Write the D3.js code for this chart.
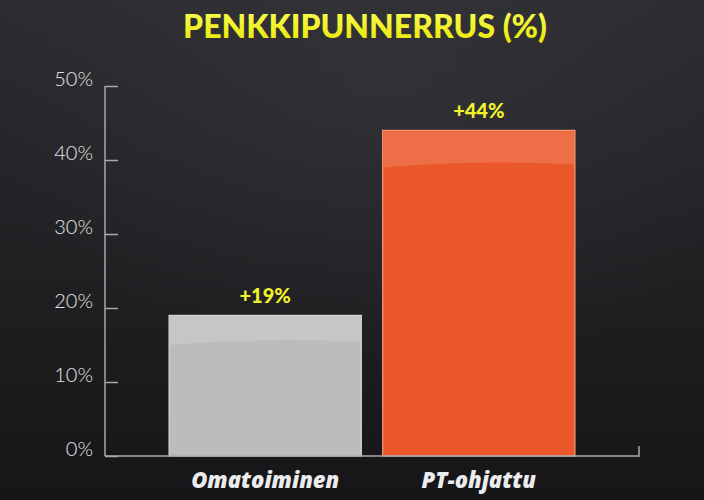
<!DOCTYPE html>
<html>
<head>
<meta charset="utf-8">
<script src="https://cdn.jsdelivr.net/npm/d3@7"></script>
<style>
  html, body { margin: 0; padding: 0; background: #1b1b1d; }
  svg { display: block; }
</style>
</head>
<body>
<div id="chart"></div>
<script>
const categories = ["Omatoiminen", "PT-ohjattu"];
const values = [19, 44];
const valueLabels = ["+19%", "+44%"];
const yTicks = [0, 10, 20, 30, 40, 50];
const title = "PENKKIPUNNERRUS (%)";

const width = 704, height = 500;
const plotLeft = 105, plotRight = 639, plotTop = 86, plotBottom = 456;

const svg = d3.select("#chart").append("svg").attr("width", width).attr("height", height);
const defs = svg.append("defs");

// background: dark with a faint light glow in the upper middle
const bg = defs.append("linearGradient").attr("id", "bg").attr("x1", 0).attr("y1", 0).attr("x2", 0).attr("y2", 1);
bg.append("stop").attr("offset", "0%").attr("stop-color", "#2c2c30");
bg.append("stop").attr("offset", "60%").attr("stop-color", "#1f1f22");
bg.append("stop").attr("offset", "100%").attr("stop-color", "#161618");
const glow = defs.append("radialGradient").attr("id", "glow").attr("cx", "55%").attr("cy", "15%").attr("r", "60%");
glow.append("stop").attr("offset", "0%").attr("stop-color", "#3a3a3f").attr("stop-opacity", 0.5);
glow.append("stop").attr("offset", "100%").attr("stop-color", "#3a3a3f").attr("stop-opacity", 0);

svg.append("rect").attr("width", width).attr("height", height).attr("fill", "url(#bg)");
svg.append("rect").attr("width", width).attr("height", height).attr("fill", "url(#glow)");

const titleGrad = defs.append("linearGradient").attr("id", "titleGrad").attr("x1", 0).attr("y1", 0).attr("x2", 0).attr("y2", 1);
titleGrad.append("stop").attr("offset", "0%").attr("stop-color", "#fbff5a");
titleGrad.append("stop").attr("offset", "100%").attr("stop-color", "#e8e600");

svg.append("text")
  .attr("x", 365).attr("y", 38)
  .attr("text-anchor", "middle")
  .attr("font-family", "Lato")
  .attr("font-weight", 900)
  .attr("font-size", 32)
  .attr("fill", "url(#titleGrad)")
  .text(title);

const y = d3.scaleLinear().domain([0, 50]).range([plotBottom, plotTop]);
const x = d3.scaleBand().domain(categories).range([plotLeft, plotRight]).paddingInner(0.1).paddingOuter(0.3);

// y axis
const yAxis = svg.append("g").attr("transform", `translate(${plotLeft},0)`)
  .call(d3.axisRight(y).tickValues(yTicks).tickSize(13).tickFormat(""));
yAxis.select(".domain").attr("d", `M0,${plotTop}V${plotBottom}`);
yAxis.selectAll("path, line").attr("stroke", "#a9a9ad").attr("stroke-width", 1.5);

svg.append("g").selectAll("text").data(yTicks).join("text")
  .attr("x", 93).attr("y", d => y(d) - 5)
  .attr("text-anchor", "end")
  .attr("dominant-baseline", "middle")
  .attr("font-family", "Lato")
  .attr("font-weight", 300)
  .attr("font-size", 20)
  .attr("fill", "#e4e4e6")
  .text(d => d + "%");

// bars
const colors = [
  { base: "#bbbcbe", gloss: "#c5c6c8", edge: "#d6d7d9" },
  { base: "#ea582a", gloss: "#ee6e47", edge: "#f49a7c" }
];
const data = categories.map((c, i) => ({ cat: c, value: values[i], label: valueLabels[i], col: colors[i] }));

const bars = svg.append("g").selectAll("g").data(data).join("g");
bars.append("rect")
  .attr("x", d => x(d.cat))
  .attr("y", d => y(d.value))
  .attr("width", x.bandwidth())
  .attr("height", d => plotBottom - y(d.value))
  .attr("fill", d => d.col.base)
  .attr("stroke", d => d.col.edge)
  .attr("stroke-width", 1.2);
bars.append("path")
  .attr("d", d => {
    const x0 = x(d.cat) + 1, x1 = x(d.cat) + x.bandwidth() - 1, y0 = y(d.value) + 1;
    const g = (plotBottom - y(d.value)) * 0.04 + 23;
    return `M${x0},${y0}H${x1}V${y0 + g - 3}Q${(x0 + x1) / 2},${y0 + g - 8} ${x0},${y0 + g}Z`;
  })
  .attr("fill", d => d.col.gloss);

bars.append("text")
  .attr("x", d => x(d.cat) + x.bandwidth() / 2)
  .attr("y", d => y(d.value) - 18)
  .attr("text-anchor", "middle")
  .attr("dominant-baseline", "middle")
  .attr("font-family", "Lato")
  .attr("font-weight", 900)
  .attr("font-size", 20)
  .attr("fill", "#f2f22a")
  .text(d => d.label);

// x axis
const xAxis = svg.append("g").attr("transform", `translate(0,${plotBottom})`)
  .call(d3.axisBottom(x).tickSize(0).tickFormat(""));
xAxis.select(".domain").attr("d", `M${plotLeft},0H${plotRight}V-10`).attr("fill", "none");
xAxis.selectAll("path").attr("stroke", "#a9a9ad").attr("stroke-width", 1.5);

svg.append("g").selectAll("text").data(categories).join("text")
  .attr("x", d => x(d) + x.bandwidth() / 2)
  .attr("y", 488)
  .attr("text-anchor", "middle")
  .attr("font-family", "Open Sans")
  .attr("font-weight", 800)
  .attr("font-style", "italic")
  .attr("font-size", 22)
  .attr("fill", "#ececee")
  .text(d => d);
</script>
</body>
</html>
